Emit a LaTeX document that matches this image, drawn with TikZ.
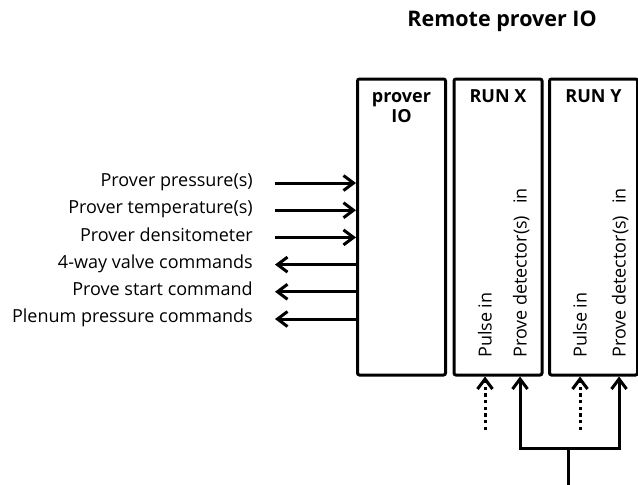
\documentclass[tikz,border=0pt]{standalone}
\usepackage{fontspec}
\setmainfont{Open Sans}
\usetikzlibrary{arrows.meta,positioning}

\begin{document}
\begin{tikzpicture}[
    x=1pt, y=-1pt,
    font=\fontsize{18}{20}\selectfont,
    box/.style={draw, line width=3pt, rounded corners=2pt, minimum width=88pt, minimum height=296pt, inner sep=0pt},
    head/.style={font=\fontsize{18}{20}\selectfont\bfseries, align=center, anchor=north, inner sep=0pt},
    sigtext/.style={anchor=east, inner sep=0pt, text height=12pt, text depth=4.5pt},
    vlabel/.style={rotate=90, anchor=west, inner sep=0pt, text height=13pt, text depth=0pt},
    sig/.style={line width=3pt, -{Straight Barb[length=10pt,width=15pt]}},
    dotline/.style={dash pattern=on 3.3pt off 3.4pt}
]
\useasboundingbox (0,0) rectangle (638,485);

\node[font=\fontsize{21.5}{24}\selectfont\bfseries, anchor=base] (title) at (502,26) {Remote prover IO};

\node[box] (io) at (401.5,227) {};
\node[box] (runx) at (498,227) {};
\node[box] (runy) at (593.5,227) {};

\node[head, below=11pt of io.north] (iohead) {\strut prover\\IO};
\node[head, below=11pt of runx.north] (runxhead) {\strut RUN X};
\node[head, below=11pt of runy.north] (runyhead) {\strut RUN Y};

\node[sigtext] (pres) at (253,183) {Prover pressure(s)};
\node[sigtext] (temp) at (253,210.2) {Prover temperature(s)};
\node[sigtext] (dens) at (253,237.4) {Prover densitometer};
\node[sigtext] (valve) at (253,264.6) {4-way valve commands};
\node[sigtext] (start) at (253,291.8) {Prove start command};
\node[sigtext] (plenum) at (253,319) {Plenum pressure commands};

\draw[sig] ([xshift=22pt]pres.east) -- (pres.east -| io.west);
\draw[sig] ([xshift=22pt]temp.east) -- (temp.east -| io.west);
\draw[sig] ([xshift=22pt]dens.east) -- (dens.east -| io.west);
\draw[sig] (valve.east -| io.west) -- ([xshift=22pt]valve.east);
\draw[sig] (start.east -| io.west) -- ([xshift=22pt]start.east);
\draw[sig] (plenum.east -| io.west) -- ([xshift=22pt]plenum.east);

\node[vlabel] (xpulse) at (485,358) {Pulse in};
\node[vlabel] (xdet) at (520,358) {Prove detector(s)\hspace{12pt}in};
\node[vlabel] (ypulse) at (580,358) {Pulse in};
\node[vlabel] (ydet) at (619,358) {Prove detector(s)\hspace{12pt}in};

\coordinate (xpin) at (485,430);
\coordinate (ypin) at (580,430);
\coordinate (feed) at (568,485);
\coordinate (split) at (568,448);

\draw[sig, dotline] (xpin) -- (xpulse.west |- runx.south);
\draw[sig, dotline] (ypin) -- (ypulse.west |- runy.south);
\draw[line width=3pt] (feed) -- (split);
\draw[sig] (split) -| (xdet.west |- runx.south);
\draw[sig] (split) -| (ydet.west |- runy.south);
\end{tikzpicture}
\end{document}
